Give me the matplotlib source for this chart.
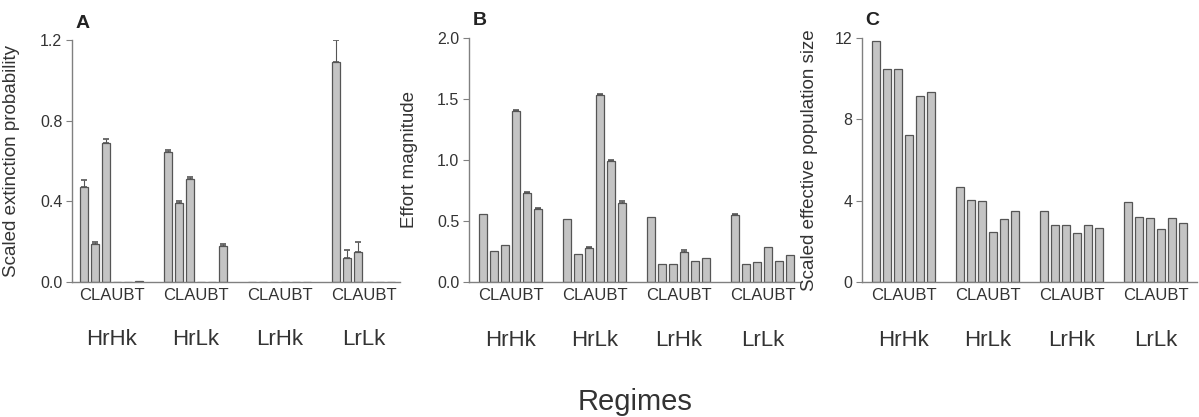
import numpy as np
import matplotlib.pyplot as plt

plt.rcParams['font.family'] = ['Liberation Sans', 'DejaVu Sans']

regimes = ['HrHk', 'HrLk', 'LrHk', 'LrLk']
strategies = 'CLAUBT'

# A: scaled extinction probability (upper error only)
ext_prob = [
    [0.47, 0.19, 0.69, 0.0, 0.0, 0.005],
    [0.645, 0.39, 0.51, 0.0, 0.0, 0.18],
    [0.0, 0.0, 0.0, 0.0, 0.0, 0.0],
    [1.09, 0.12, 0.15, 0.0, 0.0, 0.0],
]
ext_err = [
    [0.035, 0.01, 0.02, 0.0, 0.0, 0.0],
    [0.01, 0.01, 0.01, 0.0, 0.0, 0.01],
    [0.0, 0.0, 0.0, 0.0, 0.0, 0.0],
    [0.11, 0.04, 0.05, 0.0, 0.0, 0.0],
]

# B: effort magnitude
effort = [
    [0.56, 0.255, 0.30, 1.40, 0.73, 0.60],
    [0.52, 0.23, 0.28, 1.53, 0.99, 0.65],
    [0.53, 0.15, 0.15, 0.25, 0.17, 0.20],
    [0.55, 0.15, 0.16, 0.29, 0.17, 0.22],
]
effort_err = [
    [0.0, 0.0, 0.0, 0.01, 0.01, 0.01],
    [0.0, 0.0, 0.01, 0.01, 0.01, 0.01],
    [0.0, 0.0, 0.0, 0.01, 0.0, 0.0],
    [0.01, 0.0, 0.0, 0.0, 0.0, 0.0],
]

# C: scaled effective population size
pop_size = [
    [11.84, 10.5, 10.5, 7.24, 9.13, 9.33],
    [4.65, 4.03, 4.0, 2.47, 3.08, 3.5],
    [3.49, 2.78, 2.78, 2.42, 2.8, 2.68],
    [3.95, 3.2, 3.17, 2.6, 3.17, 2.91],
]

W, H = 1199, 417
fig = plt.figure(figsize=(W / 100, H / 100), dpi=100)

group_step = 7.64
bar_face = '#c4c4c4'
bar_edge = '#555555'
axis_col = '#808080'
text_col = '#333333'


def px_axes(left, right, top, bottom):
    return fig.add_axes([left / W, 1 - bottom / H, (right - left) / W, (bottom - top) / H])


def draw_panel(ax, values, errors, ylim, yticks, ytick_labels, ylabel, letter, xlim):
    values = np.array(values)
    for g in range(len(regimes)):
        x = g * group_step + np.arange(6)
        ax.bar(x, values[g], width=0.72, color=bar_face, edgecolor=bar_edge, linewidth=0.9)
        if errors is not None:
            err = np.array(errors[g])
            mask = err > 0
            ax.errorbar(x[mask], values[g][mask], yerr=[np.zeros(mask.sum()), err[mask]],
                        fmt='none', ecolor='#555555', elinewidth=0.8, capsize=2.5, capthick=1.2)
    ax.set_ylim(*ylim)
    ax.set_xlim(*xlim)
    ax.set_yticks(yticks)
    ax.set_yticklabels(ytick_labels, fontsize=11.5, color=text_col)
    centers = np.arange(len(regimes)) * group_step + 2.5
    ax.set_xticks(centers)
    ax.set_xticklabels([strategies] * len(regimes), fontsize=12, color=text_col)
    ax.tick_params(axis='x', length=0, pad=4)
    ax.tick_params(axis='y', length=4, width=0.8, color=axis_col, pad=3)
    for c, name in zip(centers, regimes):
        ax.text(c, -0.238, name, transform=ax.get_xaxis_transform(), ha='center', va='center',
                fontsize=16, color=text_col)
    for s in ['top', 'right']:
        ax.spines[s].set_visible(False)
    for s in ['left', 'bottom']:
        ax.spines[s].set_color(axis_col)
        ax.spines[s].set_linewidth(1.0)
    ax.set_ylabel(ylabel, fontsize=13.5, color=text_col)
    ax.text(0.01, 1.035, letter, transform=ax.transAxes, fontsize=14, fontweight='bold',
            color='#222222', ha='left', va='bottom')


axA = px_axes(72, 400, 40, 282)
draw_panel(axA, ext_prob, ext_err, (0, 1.2), [0, 0.4, 0.8, 1.2], ['0.0', '0.4', '0.8', '1.2'],
           'Scaled extinction probability', 'A', (-1.09, 28.7))
axA.yaxis.set_label_coords(-0.16, 0.5)

axB = px_axes(469, 800, 38, 282)
draw_panel(axB, effort, effort_err, (0, 2.0), [0, 0.5, 1.0, 1.5, 2.0],
           ['0.0', '0.5', '1.0', '1.5', '2.0'], 'Effort magnitude', 'B', (-1.27, 28.8))
axB.yaxis.set_label_coords(-0.155, 0.5)

axC = px_axes(862, 1197, 38, 282)
draw_panel(axC, pop_size, None, (0, 12), [0, 4, 8, 12], ['0', '4', '8', '12'],
           'Scaled effective population size', 'C', (-1.27, 29.2))
axC.yaxis.set_label_coords(-0.13, 0.5)

fig.text(635 / W, 1 - 402 / H, 'Regimes', ha='center', va='center', fontsize=21, color=text_col)

fig.savefig('out.png', dpi=100)
